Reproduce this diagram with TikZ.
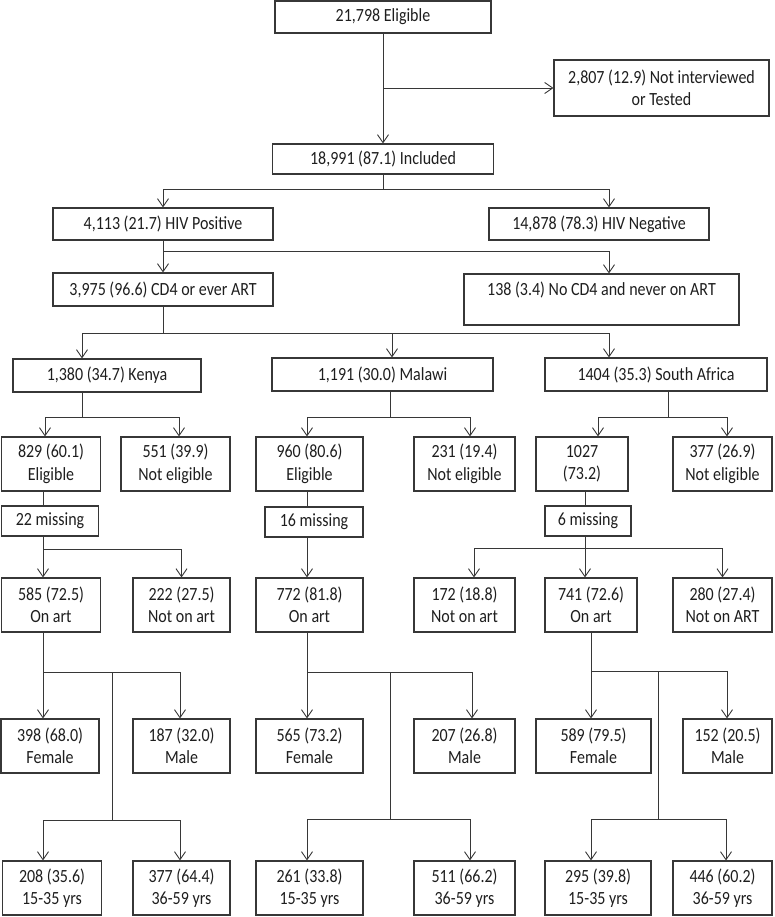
\documentclass[tikz,border=0pt]{standalone}
\usepackage{fontspec}
\setmainfont{Carlito}[FakeStretch=0.86]
\usepackage{tikz}
\usetikzlibrary{arrows.meta,calc}
\definecolor{lineaGris}{RGB}{55,55,55}
\definecolor{textoGris}{RGB}{30,30,30}
\tikzset{
  caja/.style={draw=lineaGris,line width=1.1pt,rectangle,inner sep=0pt,align=center,
               text=textoGris,font=\fontsize{18.6}{22.5}\selectfont},
  liga/.style={draw=lineaGris,line width=0.9pt},
  flecha/.style={liga,-{Straight Barb[length=8pt,width=11pt]}}
}

\begin{document}
\begin{tikzpicture}[x=1pt,y=-1pt]
\useasboundingbox (0,0) rectangle (774,917);
\node[caja,minimum width=216pt,minimum height=32pt] (elig) at (383,17) {21,798 Eligible};
\node[caja,minimum width=215pt,minimum height=56pt] (notint) at (661.5,88) {2,807 (12.9) Not interviewed\\or Tested};
\node[caja,minimum width=221pt,minimum height=30pt] (incl) at (383,159) {18,991 (87.1) Included};
\node[caja,minimum width=220pt,minimum height=32pt] (hivpos) at (163,224) {4,113 (21.7) HIV Positive};
\node[caja,minimum width=220pt,minimum height=32pt] (hivneg) at (599,224) {14,878 (78.3) HIV Negative};
\node[caja,minimum width=220pt,minimum height=33pt] (cdfour) at (163,289.5) {3,975 (96.6) CD4 or ever ART};
\node[caja,minimum width=275pt,minimum height=51pt] (nocd) at (601.5,299.5) {138 (3.4) No CD4 and never on ART\\\mbox{}};
\node[caja,minimum width=188pt,minimum height=33pt] (kenya) at (107,375.5) {1,380 (34.7) Kenya};
\node[caja,minimum width=221pt,minimum height=33pt] (malawi) at (382.5,374.5) {1,191 (30.0) Malawi};
\node[caja,minimum width=222pt,minimum height=33pt] (safrica) at (656,374.5) {1404 (35.3) South Africa};
\node[caja,minimum width=99pt,minimum height=54pt] (kel) at (51,464) {829 (60.1)\\Eligible};
\node[caja,minimum width=109pt,minimum height=54pt] (kne) at (175.5,464) {551 (39.9)\\Not eligible};
\node[caja,minimum width=107pt,minimum height=54pt] (mel) at (309.5,464) {960 (80.6)\\Eligible};
\node[caja,minimum width=101pt,minimum height=54pt] (mne) at (464.5,464) {231 (19.4)\\Not eligible};
\node[caja,minimum width=92pt,minimum height=54pt] (sel) at (582,464) {1027\\(73.2)};
\node[caja,minimum width=99pt,minimum height=54pt] (sne) at (722.5,464) {377 (26.9)\\Not eligible};
\node[caja,minimum width=97pt,minimum height=30pt] (kmiss) at (50,521) {22 missing};
\node[caja,minimum width=98pt,minimum height=30pt] (mmiss) at (314,522) {16 missing};
\node[caja,minimum width=86pt,minimum height=30pt] (smiss) at (588,521) {6 missing};
\node[caja,minimum width=99pt,minimum height=54pt] (kon) at (51,605) {585 (72.5)\\On art};
\node[caja,minimum width=97pt,minimum height=54pt] (knot) at (181.5,605) {222 (27.5)\\Not on art};
\node[caja,minimum width=107pt,minimum height=54pt] (mon) at (309.5,605) {772 (81.8)\\On art};
\node[caja,minimum width=101pt,minimum height=54pt] (snot) at (464.5,605) {172 (18.8)\\Not on art};
\node[caja,minimum width=92pt,minimum height=54pt] (son) at (591,605) {741 (72.6)\\On art};
\node[caja,minimum width=99pt,minimum height=54pt] (snoart) at (722.5,605) {280 (27.4)\\Not on ART};
\node[caja,minimum width=98pt,minimum height=54pt] (kfem) at (50,746) {398 (68.0)\\Female};
\node[caja,minimum width=97pt,minimum height=54pt] (kmale) at (181.5,746) {187 (32.0)\\Male};
\node[caja,minimum width=107pt,minimum height=54pt] (mfem) at (309.5,746) {565 (73.2)\\Female};
\node[caja,minimum width=101pt,minimum height=54pt] (mmale) at (464.5,746) {207 (26.8)\\Male};
\node[caja,minimum width=115pt,minimum height=54pt] (sfem) at (593.5,746) {589 (79.5)\\Female};
\node[caja,minimum width=89pt,minimum height=54pt] (smale) at (727.5,746) {152 (20.5)\\Male};
\node[caja,minimum width=99pt,minimum height=54pt] (kyoung) at (52,888) {208 (35.6)\\15-35 yrs};
\node[caja,minimum width=97pt,minimum height=54pt] (kold) at (181.5,888) {377 (64.4)\\36-59 yrs};
\node[caja,minimum width=107pt,minimum height=54pt] (myoung) at (309.5,888) {261 (33.8)\\15-35 yrs};
\node[caja,minimum width=101pt,minimum height=54pt] (mold) at (464.5,888) {511 (66.2)\\36-59 yrs};
\node[caja,minimum width=106pt,minimum height=54pt] (syoung) at (598,888) {295 (39.8)\\15-35 yrs};
\node[caja,minimum width=99pt,minimum height=54pt] (sold) at (722.5,888) {446 (60.2)\\36-59 yrs};

\coordinate (s0) at (383,88);
\coordinate (j1) at (383,189);
\coordinate (j2) at (163,251);
\coordinate (j3) at (163,333);
\draw[flecha] (elig.south) -- (incl.north);
\draw[flecha] (s0) -- (notint.west);
\draw[liga] (incl.south) -- (j1);
\draw[flecha] (j1) -| (hivpos.north);
\draw[flecha] (j1) -| ([xshift=10pt]hivneg.north);
\draw[liga] (hivpos.south) -- (j2);
\draw[flecha] (j2) -| (cdfour.north);
\draw[flecha] (j2) -| ([xshift=7.5pt]nocd.north);
\draw[liga] (cdfour.south) -- (j3);
\draw[flecha] (j3) -| ([xshift=-25pt]kenya.north);
\draw[flecha] (j3) -| ([xshift=9.5pt]malawi.north);
\draw[flecha] (j3) -| ([xshift=-47pt]safrica.north);

\coordinate (jk1) at (82,417);
\coordinate (jm1) at (390,417);
\coordinate (js1) at (668,417);
\draw[liga] ([xshift=-25pt]kenya.south) -- (jk1);
\draw[flecha] (jk1) -| ([xshift=-6pt]kel.north);
\draw[flecha] (jk1) -| ([xshift=3.5pt]kne.north);
\draw[liga] ([xshift=7.5pt]malawi.south) -- (jm1);
\draw[flecha] (jm1) -| ([xshift=-2.5pt]mel.north);
\draw[flecha] (jm1) -| ([xshift=5.5pt]mne.north);
\draw[liga] ([xshift=12pt]safrica.south) -- (js1);
\draw[flecha] (js1) -| ([xshift=16pt]sel.north);
\draw[flecha] (js1) -| ([xshift=4.5pt]sne.north);

\draw[liga] ([xshift=-8pt]kel.south) -- ([xshift=-7pt]kmiss.north);
\draw[liga] ([xshift=-2.5pt]mel.south) -- ([xshift=-7pt]mmiss.north);
\draw[liga] ([xshift=3pt]sel.south) -- ([xshift=-3pt]smiss.north);

\coordinate (jk2) at (43,549);
\coordinate (js2) at (585,548);
\draw[liga] ([xshift=-7pt]kmiss.south) -- (jk2);
\draw[flecha] (jk2) -| ([xshift=-8pt]kon.north);
\draw[flecha] (jk2) -| (knot.north);
\draw[flecha] ([xshift=-7pt]mmiss.south) -- ([xshift=-2.5pt]mon.north);
\draw[liga] ([xshift=-3pt]smiss.south) -- (js2);
\draw[flecha] (js2) -| ([xshift=9.5pt]snot.north);
\draw[flecha] (js2) -| ([xshift=-6pt]son.north);
\draw[flecha] (js2) -| (snoart.north);

\coordinate (jk3) at (43,672);
\coordinate (jk4) at (112,672);
\coordinate (jk5) at (112,820);
\draw[liga] ([xshift=-8pt]kon.south) -- (jk3);
\draw[flecha] (jk3) -| ([xshift=-7pt]kfem.north);
\draw[flecha] (jk3) -| ([xshift=-1.5pt]kmale.north);
\draw[liga] (jk4) -- (jk5);
\draw[flecha] (jk5) -| ([xshift=-9pt]kyoung.north);
\draw[flecha] (jk5) -| ([xshift=-1.5pt]kold.north);

\coordinate (jm3) at (307,672);
\coordinate (jm4) at (390,672);
\coordinate (jm5) at (390,819);
\draw[liga] ([xshift=-2.5pt]mon.south) -- (jm3);
\draw[flecha] (jm3) -| ([xshift=-2.5pt]mfem.north);
\draw[flecha] (jm3) -| ([xshift=7.5pt]mmale.north);
\draw[liga] (jm4) -- (jm5);
\draw[flecha] (jm5) -| ([xshift=-2.5pt]myoung.north);
\draw[flecha] (jm5) -| ([xshift=5.5pt]mold.north);

\coordinate (js3) at (591,671);
\coordinate (js4) at (658,671);
\coordinate (js5) at (658,819);
\draw[liga] (son.south) -- (js3);
\draw[flecha] (js3) -| ([xshift=-2.5pt]sfem.north);
\draw[flecha] (js3) -| ([xshift=-0.5pt]smale.north);
\draw[liga] (js4) -- (js5);
\draw[flecha] (js5) -| ([xshift=-7pt]syoung.north);
\draw[flecha] (js5) -| ([xshift=3.5pt]sold.north);
\end{tikzpicture}
\end{document}
